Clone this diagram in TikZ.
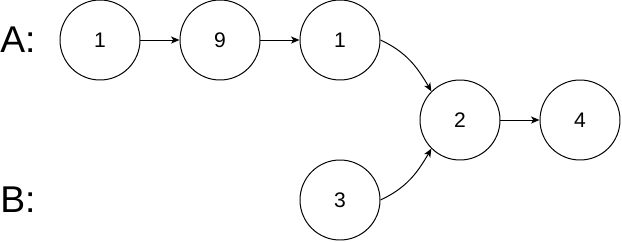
\documentclass[tikz,border=0pt]{standalone}
\usepackage{fontspec}
\setmainfont{Liberation Sans}
\usetikzlibrary{arrows.meta, positioning}

\tikzset{
  listnode/.style={circle, draw=black, line width=0.7pt, minimum size=2cm,
                   inner sep=0pt, font=\fontsize{15}{18}\selectfont},
  listlabel/.style={font=\fontsize{26.5}{30}\selectfont, inner sep=0pt},
  link/.style={line width=0.7pt, -{Stealth[length=6pt, width=5pt, inset=1.5pt]}}
}

\begin{document}
\begin{tikzpicture}
    \useasboundingbox (0,0) rectangle (15.55,-6.025);

    \node[listlabel](la) at (0.45,-1.0){A:};
    \node[listlabel](lb) at (0.45,-5.0){B:};

    \node[listnode](a1) at (2.5,-1.0){1};
    \node[listnode](a2) at (5.5,-1.0){9};
    \node[listnode](a3) at (8.5,-1.0){1};
    \node[listnode](b1) at (8.5,-5.0){3};
    \node[listnode](m1) at (11.5,-3.0){2};
    \node[listnode](m2) at (14.5,-3.0){4};

    \draw[link](a1) -- (a2);
    \draw[link](a2) -- (a3);
    \draw[link](a3.east) to[out=-25, in=120] (m1.135);
    \draw[link](b1.east) to[out=25, in=-120] (m1.225);
    \draw[link](m1) -- (m2);
\end{tikzpicture}
\end{document}
